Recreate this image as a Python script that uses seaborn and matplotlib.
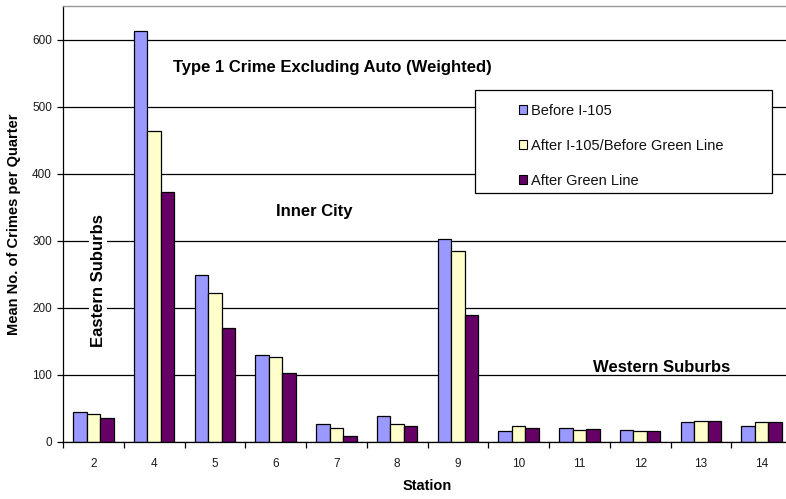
import matplotlib
matplotlib.use("Agg")
import matplotlib.pyplot as plt
from matplotlib.patches import Rectangle
from matplotlib.ticker import FixedLocator
import pandas as pd
import seaborn as sns

# Mean number of Type 1 crimes (excluding auto, weighted) per quarter, by station
stations = ["2", "4", "5", "6", "7", "8", "9", "10", "11", "12", "13", "14"]
periods = ["Before I-105", "After I-105/Before Green Line", "After Green Line"]
before_i105 = [45, 613, 249, 130, 27, 39, 303, 16, 21, 17, 29, 23]
after_i105 = [41, 464, 222, 126, 20, 26, 284, 23, 18, 16, 31, 29]
after_green = [36, 372, 170, 102, 9, 24, 189, 20, 19, 16, 31, 30]
period_colors = ["#9999FF", "#FFFFCC", "#660066"]
y_ticks = [0, 100, 200, 300, 400, 500, 600]

df = pd.DataFrame({
    "Station": stations * 3,
    "Period": [p for p in periods for _ in stations],
    "Crimes": before_i105 + after_i105 + after_green,
})

sns.set_theme(style="white")
plt.rcParams["font.family"] = ["Liberation Sans", "DejaVu Sans"]
plt.rcParams["text.color"] = "black"
plt.rcParams["axes.labelcolor"] = "black"

fig = plt.figure(figsize=(7.86, 4.99), dpi=100)
ax = fig.add_axes([63 / 786, 57.3 / 499, 729 / 786, 435.7 / 499])

sns.barplot(
    data=df, x="Station", y="Crimes", hue="Period", order=stations,
    hue_order=periods, palette=period_colors, width=0.67,
    edgecolor="black", linewidth=0.9, saturation=1, legend=False, ax=ax,
)

ax.set_xlim(-0.5, len(stations) - 0.5)
ax.set_ylim(0, 650)
ax.set_yticks(y_ticks)
ax.grid(axis="y", color="black", linewidth=0.9)
ax.set_axisbelow(True)

# ticks between categories, labels centred under each group
ax.xaxis.set_minor_locator(FixedLocator([i - 0.5 for i in range(len(stations) + 1)]))
ax.tick_params(axis="x", which="major", length=0, pad=12, labelsize=8.5, labelcolor="#1a1a1a")
ax.tick_params(axis="x", which="minor", length=4, width=0.9, direction="out", color="black", bottom=True)
ax.tick_params(axis="y", which="major", length=4, width=0.9, direction="out", color="black",
               left=True, pad=4, labelsize=8.5, labelcolor="#1a1a1a")

for side in ("left", "bottom"):
    ax.spines[side].set_color("black")
    ax.spines[side].set_linewidth(0.9)
ax.spines["top"].set_color("#999999")
ax.spines["top"].set_linewidth(1.0)
ax.spines["right"].set_visible(False)

ax.set_xlabel("Station", fontsize=10.5, fontweight="bold", labelpad=6)
ax.set_ylabel("Mean No. of Crimes per Quarter", fontsize=10.5, fontweight="bold", labelpad=8)

# annotations
ax.text(3.94, 558, "Type 1 Crime Excluding Auto (Weighted)", fontsize=12, fontweight="bold",
        ha="center", va="center")
ax.text(3.63, 343, "Inner City", fontsize=12, fontweight="bold", ha="center", va="center")
ax.text(9.35, 110, "Western Suburbs", fontsize=12, fontweight="bold", ha="center", va="center")
ax.text(0.08, 241, "Eastern Suburbs", fontsize=12, fontweight="bold", ha="center", va="center",
        rotation=90, bbox=dict(facecolor="white", edgecolor="none", pad=1))

# legend box
ax.add_patch(Rectangle((0.5648, 0.570), 0.4072, 0.237, transform=ax.transAxes,
                       facecolor="white", edgecolor="black", linewidth=0.9, zorder=5))
handles = [Rectangle((0, 0), 1, 1, facecolor=c, edgecolor="black", linewidth=0.8) for c in period_colors]
leg = ax.legend(handles, periods, loc="upper left", bbox_to_anchor=(0.625, 0.776),
                frameon=False, fontsize=10.5, handlelength=0.57, handleheight=0.57,
                handletextpad=0.3, labelspacing=1.44, borderpad=0, borderaxespad=0)
leg.set_zorder(6)
for t in leg.get_texts():
    t.set_color("#111111")

fig.savefig("out.png", dpi=100)
